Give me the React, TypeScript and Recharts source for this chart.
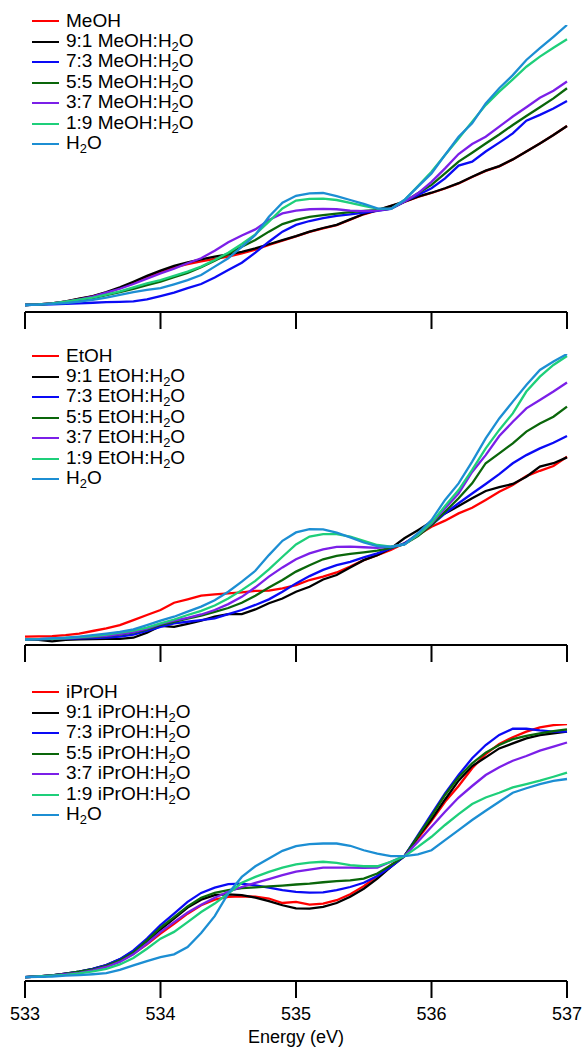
import React from "react";
import { LineChart, Line, XAxis, YAxis, Legend, Label } from "recharts";

// energy grid (eV)
const energy = [
  533.0, 533.1, 533.2, 533.3, 533.4, 533.5, 533.6, 533.7, 533.8, 533.9,
  534.0, 534.1, 534.2, 534.3, 534.4, 534.5, 534.6, 534.7, 534.8, 534.9,
  535.0, 535.1, 535.2, 535.3, 535.4, 535.5, 535.6, 535.7, 535.8, 535.9,
  536.0, 536.1, 536.2, 536.3, 536.4, 536.5, 536.6, 536.7, 536.8, 536.9,
  537.0,
];
const xTicks = [533, 534, 535, 536, 537];

const colors = ["#ff0000", "#000000", "#0a0af5", "#0a660a", "#7b1fe8", "#1ecf7a", "#1c8ed3"];

// methanol panel
const meohLabels = ["MeOH", "9:1 MeOH:H2O", "7:3 MeOH:H2O", "5:5 MeOH:H2O", "3:7 MeOH:H2O", "1:9 MeOH:H2O", "H2O"];
const meohPure = [0, 0.2, 0.6, 1.2, 2.2, 3.1, 4.4, 6.0, 8.0, 10.0, 11.8, 13.4, 14.6, 15.6, 16.5, 17.3, 18.4, 19.8, 21.5, 23.0, 24.5, 26.1, 27.4, 28.5, 30.5, 32.4, 33.8, 35.3, 36.8, 38.6, 40.0, 41.6, 43.4, 45.7, 47.9, 49.5, 52.0, 54.8, 57.7, 60.7, 63.9];
const meoh91 = [0, 0.2, 0.6, 1.3, 2.3, 3.2, 4.6, 6.3, 8.3, 10.4, 12.3, 14.0, 15.2, 16.3, 17.3, 18.1, 19.0, 20.2, 21.7, 23.2, 24.6, 26.2, 27.5, 28.6, 30.6, 32.5, 33.9, 35.4, 36.9, 38.7, 40.1, 41.7, 43.5, 45.8, 48.0, 49.6, 52.0, 54.8, 57.7, 60.7, 63.9];
const meoh73 = [0, 0.1, 0.2, 0.4, 0.6, 0.8, 1.0, 1.1, 1.3, 2.0, 3.2, 4.4, 6.0, 7.5, 9.8, 12.5, 15.1, 18.7, 22.6, 26.2, 28.6, 30.0, 31.0, 31.8, 32.4, 33.0, 33.6, 34.3, 36.9, 39.3, 41.7, 45.2, 49.8, 51.2, 54.8, 58.0, 61.3, 65.8, 67.9, 70.2, 72.9];
const meoh55 = [0, 0.1, 0.5, 1.1, 1.8, 2.5, 3.5, 4.6, 5.8, 7.1, 8.3, 9.9, 11.5, 13.5, 15.8, 18.2, 20.8, 23.2, 26.2, 28.9, 30.4, 31.5, 32.1, 32.6, 33.2, 33.6, 33.9, 34.4, 36.9, 39.9, 42.9, 47.0, 51.2, 54.4, 57.7, 60.9, 64.3, 67.5, 70.6, 73.8, 77.4];
const meoh37 = [0, 0.2, 0.6, 1.2, 2.0, 3.0, 4.4, 5.8, 7.5, 9.4, 11.3, 13.0, 14.9, 16.7, 19.4, 22.4, 24.8, 27.0, 30.4, 32.7, 33.7, 34.2, 34.3, 34.2, 33.7, 33.5, 33.7, 34.4, 36.9, 39.9, 44.0, 48.8, 53.9, 57.5, 60.1, 63.7, 67.3, 70.6, 74.0, 76.5, 79.8];
const meoh19 = [0, 0.2, 0.6, 1.2, 1.9, 2.6, 3.7, 4.9, 6.3, 7.7, 8.9, 10.4, 11.9, 13.7, 16.1, 18.7, 21.8, 25.2, 29.8, 34.5, 37.3, 37.9, 38.0, 37.5, 36.5, 35.4, 34.4, 34.3, 37.5, 42.5, 47.6, 53.6, 59.5, 65.5, 71.4, 76.2, 80.6, 85.1, 88.7, 91.9, 94.9];
const waterMe = [0, 0.1, 0.4, 0.7, 1.2, 1.8, 2.6, 3.6, 4.6, 5.4, 6.0, 7.4, 8.9, 10.7, 13.7, 16.7, 20.8, 25.0, 31.5, 36.5, 39.0, 39.9, 40.0, 38.9, 37.5, 36.1, 34.5, 34.3, 37.5, 42.3, 47.0, 53.6, 60.1, 64.9, 72.0, 77.4, 82.1, 87.5, 91.7, 95.8, 100];

// ethanol panel
const etohLabels = ["EtOH", "9:1 EtOH:H2O", "7:3 EtOH:H2O", "5:5 EtOH:H2O", "3:7 EtOH:H2O", "1:9 EtOH:H2O", "H2O"];
const etohPure = [1.0, 1.1, 1.2, 1.5, 2.1, 3.0, 3.9, 5.1, 6.9, 8.7, 10.5, 13.1, 14.3, 15.6, 16.1, 16.4, 16.8, 17.3, 17.4, 18.2, 19.4, 21.2, 22.4, 23.9, 26.0, 28.3, 30.1, 31.9, 34.3, 37.3, 40.2, 42.4, 45.0, 47.0, 49.8, 52.7, 55.1, 58.3, 60.2, 61.9, 65.2];
const etoh91 = [0, -0.2, -0.7, -0.2, 0, 0.1, 0.2, 0.2, 0.6, 2.4, 4.8, 4.5, 5.5, 6.7, 8.1, 9.0, 9.0, 10.7, 12.9, 14.6, 17.0, 18.8, 21.4, 23.0, 25.7, 28.3, 30.1, 32.5, 36.1, 39.0, 42.0, 45.0, 47.6, 50.4, 53.0, 54.4, 55.5, 58.1, 61.7, 62.9, 65.0];
const etoh73 = [0, 0.1, 0.2, 0.2, 0.4, 0.5, 0.6, 1.0, 1.7, 3.0, 4.5, 5.7, 6.3, 6.9, 7.5, 9.0, 10.5, 12.3, 14.3, 17.0, 20.0, 22.6, 24.8, 26.5, 27.7, 29.3, 30.7, 32.5, 34.3, 37.6, 40.8, 45.0, 48.6, 52.1, 55.5, 59.0, 62.9, 65.8, 68.2, 70.2, 72.6];
const etoh55 = [0, 0.1, 0.2, 0.4, 0.6, 0.8, 1.2, 1.7, 2.4, 3.6, 5.2, 6.3, 7.4, 8.5, 9.8, 11.2, 13.1, 15.6, 18.5, 21.2, 24.2, 26.5, 28.6, 29.8, 30.5, 31.1, 31.7, 32.7, 34.0, 36.9, 40.8, 45.6, 50.4, 55.7, 62.9, 66.4, 70.0, 74.2, 77.1, 79.5, 83.1];
const etoh37 = [0, 0.1, 0.2, 0.4, 0.6, 1.0, 1.3, 1.9, 2.6, 3.8, 5.5, 6.7, 7.7, 8.9, 10.5, 12.6, 15.2, 18.6, 22.4, 25.7, 28.6, 30.7, 32.1, 33.0, 33.1, 32.9, 32.7, 33.1, 33.9, 37.3, 41.4, 46.8, 52.1, 59.8, 65.8, 72.6, 77.7, 82.5, 85.5, 88.5, 91.7];
const etoh19 = [0, 0.1, 0.2, 0.5, 0.8, 1.2, 1.7, 2.4, 3.1, 4.2, 5.7, 7.1, 8.7, 10.2, 12.1, 14.6, 17.6, 20.9, 25.0, 29.5, 33.9, 36.7, 37.6, 37.6, 36.7, 35.2, 33.7, 33.1, 33.9, 37.3, 41.7, 47.6, 53.3, 60.5, 68.2, 74.8, 80.7, 88.5, 93.8, 98.0, 101.2];
const waterEt = [0, 0.1, 0.4, 0.6, 1.0, 1.5, 2.1, 2.7, 3.6, 5.1, 6.7, 8.1, 9.9, 11.7, 14.0, 17.0, 20.6, 24.5, 30.1, 35.2, 38.2, 39.4, 39.3, 38.1, 36.4, 34.6, 33.3, 33.0, 33.9, 37.9, 42.6, 49.8, 55.7, 63.5, 71.8, 78.9, 84.9, 90.8, 96.2, 99.2, 101.9];

// isopropanol panel
const iprLabels = ["iPrOH", "9:1 iPrOH:H2O", "7:3 iPrOH:H2O", "5:5 iPrOH:H2O", "3:7 iPrOH:H2O", "1:9 iPrOH:H2O", "H2O"];
const iprPure = [0, 0.2, 0.6, 1.1, 1.7, 2.5, 3.8, 5.7, 8.3, 11.7, 15.5, 19.0, 22.6, 25.6, 27.6, 28.6, 28.8, 28.7, 28.0, 26.4, 26.8, 25.8, 26.2, 27.4, 29.5, 32.4, 36.0, 39.9, 43.1, 49.4, 55.7, 62.5, 68.1, 74.4, 79.5, 83.1, 85.5, 87.5, 89.0, 89.8, 90.2];
const ipr91 = [0, 0.2, 0.6, 1.2, 1.9, 2.9, 4.3, 6.3, 9.2, 12.7, 16.9, 20.8, 24.8, 27.6, 29.2, 29.5, 29.2, 28.3, 27.1, 25.6, 24.5, 24.4, 25.0, 26.4, 28.6, 31.5, 35.1, 39.3, 43.1, 50.0, 56.2, 63.3, 70.0, 75.2, 78.3, 81.5, 83.3, 85.1, 86.2, 86.9, 87.5];
const ipr73 = [0, 0.2, 0.6, 1.2, 1.9, 2.9, 4.3, 6.4, 9.5, 13.7, 18.5, 22.6, 26.8, 30.0, 31.9, 33.1, 33.3, 32.7, 31.9, 31.0, 30.4, 30.1, 30.2, 31.0, 32.1, 33.6, 36.0, 39.3, 43.1, 50.6, 58.1, 65.5, 72.0, 78.0, 82.7, 86.3, 88.5, 88.5, 87.9, 87.5, 87.5];
const ipr55 = [0, 0.2, 0.6, 1.2, 1.9, 2.7, 4.0, 6.0, 8.8, 13.1, 17.6, 21.4, 25.2, 28.3, 30.0, 31.0, 31.7, 32.0, 32.3, 32.6, 33.0, 33.3, 33.8, 34.2, 34.5, 35.1, 36.9, 39.9, 43.1, 50.2, 57.4, 64.9, 71.2, 76.2, 80.0, 82.7, 84.8, 86.0, 86.9, 87.7, 88.3];
const ipr37 = [0, 0.2, 0.5, 1.0, 1.5, 2.4, 3.6, 5.4, 8.1, 11.9, 16.1, 19.6, 23.0, 25.8, 28.3, 30.4, 32.1, 33.6, 34.9, 36.3, 37.6, 38.3, 39.0, 39.0, 39.0, 38.9, 39.0, 41.1, 43.1, 48.2, 53.6, 58.9, 64.0, 68.1, 72.0, 74.8, 77.1, 78.8, 80.7, 82.1, 83.6];
const ipr19 = [0, 0.2, 0.5, 0.8, 1.3, 2.0, 2.9, 4.5, 6.8, 10.1, 13.7, 16.1, 19.6, 23.2, 26.2, 29.8, 33.6, 35.7, 37.5, 39.0, 40.2, 40.8, 41.1, 40.7, 39.9, 39.5, 39.5, 41.1, 43.1, 46.4, 50.0, 54.2, 58.1, 61.7, 64.0, 65.7, 67.6, 68.8, 70.0, 71.4, 72.9];
const waterIp = [0, 0.1, 0.2, 0.5, 0.7, 1.0, 1.4, 2.6, 4.2, 5.7, 7.1, 8.1, 10.7, 15.7, 21.7, 29.8, 35.7, 39.5, 42.3, 45.0, 46.7, 47.4, 47.6, 47.6, 46.8, 45.2, 44.0, 43.1, 43.1, 43.7, 45.2, 48.8, 52.4, 56.0, 59.3, 62.5, 65.7, 67.3, 68.8, 69.9, 70.6];

const font = "'Liberation Sans', Arial, Helvetica, sans-serif";

function buildRows(series: number[][]) {
  return energy.map((e, i) => {
    const row: Record<string, number> = { e };
    series.forEach((s, j) => {
      row["s" + j] = s[i];
    });
    return row;
  });
}

// turn "H2O" into H<sub>2</sub>O
function withSub(text: string) {
  const parts = text.split("H2O");
  return parts.map((p, i) => (
    <React.Fragment key={i}>
      {p}
      {i < parts.length - 1 && (
        <>
          H<span style={{ fontSize: "0.68em", position: "relative", top: "0.3em" }}>2</span>O
        </>
      )}
    </React.Fragment>
  ));
}

function LegendBox({ labels }: { labels: string[] }) {
  return (
    <div style={{ fontFamily: font, fontSize: 19, color: "#000" }}>
      {labels.map((l, i) => (
        <div key={l} style={{ display: "flex", alignItems: "center", height: 20.5, whiteSpace: "nowrap" }}>
          <span
            style={{
              display: "inline-block",
              width: 27,
              height: 0,
              borderTop: `2.5px solid ${colors[i]}`,
              marginRight: 7,
            }}
          />
          <span style={{ lineHeight: "20px" }}>{withSub(l)}</span>
        </div>
      ))}
    </div>
  );
}

// tick lines only, no text
const NoTickText = () => <g />;

type PanelProps = {
  top: number;
  height: number;
  marginTop: number;
  domain: [number, number];
  legendTop: number;
  labels: string[];
  series: number[][];
  bottom?: boolean;
};

function Panel({ top, height, marginTop, domain, legendTop, labels, series, bottom }: PanelProps) {
  const rows = buildRows(series);
  return (
    <div style={{ position: "absolute", left: 0, top }}>
      <LineChart width={583} height={height} data={rows} margin={{ top: marginTop, right: 16, left: 25, bottom: 0 }}>
        <XAxis
          dataKey="e"
          type="number"
          domain={[533, 537]}
          ticks={xTicks}
          tickSize={17}
          tickMargin={9}
          height={bottom ? 69 : 20}
          axisLine={{ stroke: "#000", strokeWidth: 2 }}
          tickLine={{ stroke: "#000", strokeWidth: 2 }}
          tick={bottom ? { fill: "#000", fontSize: 18, fontFamily: font } : <NoTickText />}
          interval={0}
        >
          {bottom && (
            <Label value="Energy (eV)" position="insideBottom" offset={7} fill="#000" fontSize={18} fontFamily={font} />
          )}
        </XAxis>
        <YAxis hide type="number" domain={domain} allowDataOverflow />
        <Legend
          layout="vertical"
          align="center"
          verticalAlign="middle"
          wrapperStyle={{ top: legendTop, left: 32, width: "auto" }}
          content={() => <LegendBox labels={labels} />}
        />
        {series.map((_, j) => (
          <Line
            key={j}
            dataKey={"s" + j}
            type="linear"
            stroke={colors[j]}
            strokeWidth={2.3}
            dot={false}
            activeDot={false}
            isAnimationActive={false}
          />
        ))}
      </LineChart>
    </div>
  );
}

export default function App() {
  return (
    <div style={{ position: "absolute", left: 0, top: 0, width: 583, height: 1050, background: "#fff", fontFamily: font }}>
      <Panel
        top={0}
        height={332}
        marginTop={25}
        domain={[-2.5, 100]}
        legendTop={11}
        labels={meohLabels}
        series={[meohPure, meoh91, meoh73, meoh55, meoh37, meoh19, waterMe]}
      />
      <Panel
        top={334}
        height={331}
        marginTop={20}
        domain={[-2, 101.9]}
        legendTop={12}
        labels={etohLabels}
        series={[etohPure, etoh91, etoh73, etoh55, etoh37, etoh19, waterEt]}
      />
      <Panel
        top={660}
        height={390}
        marginTop={64}
        domain={[-1.4, 90.2]}
        legendTop={22}
        labels={iprLabels}
        series={[iprPure, ipr91, ipr73, ipr55, ipr37, ipr19, waterIp]}
        bottom
      />
    </div>
  );
}
